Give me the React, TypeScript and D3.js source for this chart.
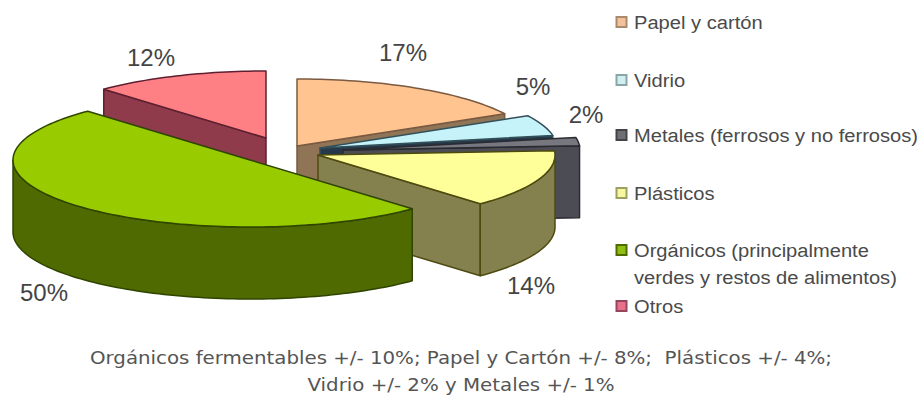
import React from "react";
import * as d3 from "d3";

// Composition of municipal solid waste, percentage by material
const categories = ["Papel y cartón", "Vidrio", "Metales (ferrosos y no ferrosos)", "Plásticos", "Orgánicos", "Otros"];
const shares = [17, 5, 2, 14, 50, 12];
const shareLabels = ["17%", "5%", "2%", "14%", "50%", "12%"];

const legendLines = [
  ["Papel y cartón"],
  ["Vidrio"],
  ["Metales (ferrosos y no ferrosos)"],
  ["Plásticos"],
  ["Orgánicos (principalmente", "verdes y restos de alimentos)"],
  ["Otros"],
];
const footnotes = [
  "Orgánicos fermentables +/- 10%; Papel y Cartón +/- 8%;  Plásticos +/- 4%;",
  "Vidrio +/- 2% y Metales +/- 1%",
];

// Colours per slice: top face, side wall, outline
const topColors = ["#FFC48F", "#C6F3F9", "#777780", "#FFFF99", "#99CC00", "#FF8084"];
const wallColors = ["#8F7556", "#26394A", "#4C4C55", "#84814F", "#4F6A00", "#8F3B4B"];
const edgeColors = ["#7A5A42", "#33505A", "#2A2A30", "#4D4A10", "#2F4500", "#5E2030"];
const legendFills = ["#F3C29A", "#CFEFF0", "#6E6E74", "#F6F7A0", "#8FBF10", "#E8708A"];
const legendEdges = ["#A98A6C", "#8AA5A5", "#444448", "#9DA060", "#4F6A00", "#94465C"];

// Exploded slice centres on the page
const centres: [number, number][] = [
  [297, 146], [320, 148], [343, 150], [318, 155], [250, 160], [266, 138],
];
const labelSpots: [number, number][] = [
  [403, 61], [533, 95], [586, 123], [531, 294], [44, 301], [151, 66],
];
const legendRows = [22, 80, 135, 193, 250, 306];

const RX = 237;
const RY = 67;
const DEPTH = 72;
const LEGEND_STRETCH = 1.06;
const NOTE_STRETCH = 1.165;

const pie = d3.pie<number>().sort(null).startAngle(0).endAngle(2 * Math.PI);
const outline = d3.line<[number, number]>();
const point = (c: [number, number], a: number, dy = 0): [number, number] => [
  c[0] + RX * Math.sin(a),
  c[1] - RY * Math.cos(a) + dy,
];
const arcPoints = (c: [number, number], a0: number, a1: number, dy = 0) => {
  const n = Math.max(2, Math.ceil((a1 - a0) * 40));
  return d3.range(n + 1).map((i) => point(c, a0 + ((a1 - a0) * i) / n, dy));
};

function Slice({ i, a0, a1 }: { i: number; a0: number; a1: number }) {
  const c = centres[i];
  const walls: [number, number][][] = [];
  // A radial wall faces the viewer only on the lower half of its travel
  const radial = (a: number) => {
    const base: [number, number] = [c[0], c[1]];
    const tip = point(c, a);
    walls.push([base, tip, [tip[0], tip[1] + DEPTH], [base[0], base[1] + DEPTH]]);
  };
  if (Math.sin(a0) < -1e-6) radial(a0);
  if (Math.sin(a1) > 1e-6) radial(a1);
  // Outer rim, visible between 3 and 9 o'clock
  const from = Math.max(a0, Math.PI / 2);
  const to = Math.min(a1, (3 * Math.PI) / 2);
  if (to > from) {
    walls.push([...arcPoints(c, from, to), ...arcPoints(c, from, to, DEPTH).reverse()]);
  }
  const top: [number, number][] = [[c[0], c[1]], ...arcPoints(c, a0, a1)];
  return (
    <g strokeLinejoin="round">
      {walls.map((w, k) => (
        <path key={k} d={outline(w) + "Z"} fill={wallColors[i]} stroke={edgeColors[i]} strokeWidth={1.5} />
      ))}
      <path d={outline(top) + "Z"} fill={topColors[i]} stroke={edgeColors[i]} strokeWidth={1.5} />
    </g>
  );
}

export default function App() {
  const arcs = pie(shares);
  // Far slices first so the nearer ones overlap them
  const paintOrder = [5, 0, 1, 2, 3, 4];
  return (
    <svg
      width={920}
      height={397}
      viewBox="0 0 920 397"
      style={{ position: "absolute", left: 0, top: 0, background: "#fff" }}
      fontFamily="'Liberation Sans', Arial, sans-serif"
    >
      {paintOrder.map((i) => (
        <Slice key={categories[i]} i={i} a0={arcs[i].startAngle} a1={arcs[i].endAngle} />
      ))}
      {shareLabels.map((t, i) => (
        <text key={t} x={labelSpots[i][0]} y={labelSpots[i][1]} textAnchor="middle" fontSize={24} fill="#444">
          {t}
        </text>
      ))}
      {legendLines.map((lines, i) => (
        <g key={lines[0]}>
          <rect x={616.5} y={legendRows[i] - 5} width={10} height={10} fill={legendFills[i]} stroke={legendEdges[i]} strokeWidth={2} />
          {lines.map((l, k) => (
            <text
              key={l}
              transform={`translate(634,${legendRows[i] + 7 + k * 27}) scale(${LEGEND_STRETCH},1)`}
              fontSize={19}
              fill="#4a4a4a"
            >
              {l}
            </text>
          ))}
        </g>
      ))}
      {footnotes.map((t, i) => (
        <text
          key={t}
          transform={`translate(461,${364 + i * 27}) scale(${NOTE_STRETCH},1)`}
          textAnchor="middle"
          fontSize={17}
          fill="#555"
          fontFamily="'DejaVu Sans', sans-serif"
          style={{ whiteSpace: "pre" }}
        >
          {t}
        </text>
      ))}
    </svg>
  );
}
